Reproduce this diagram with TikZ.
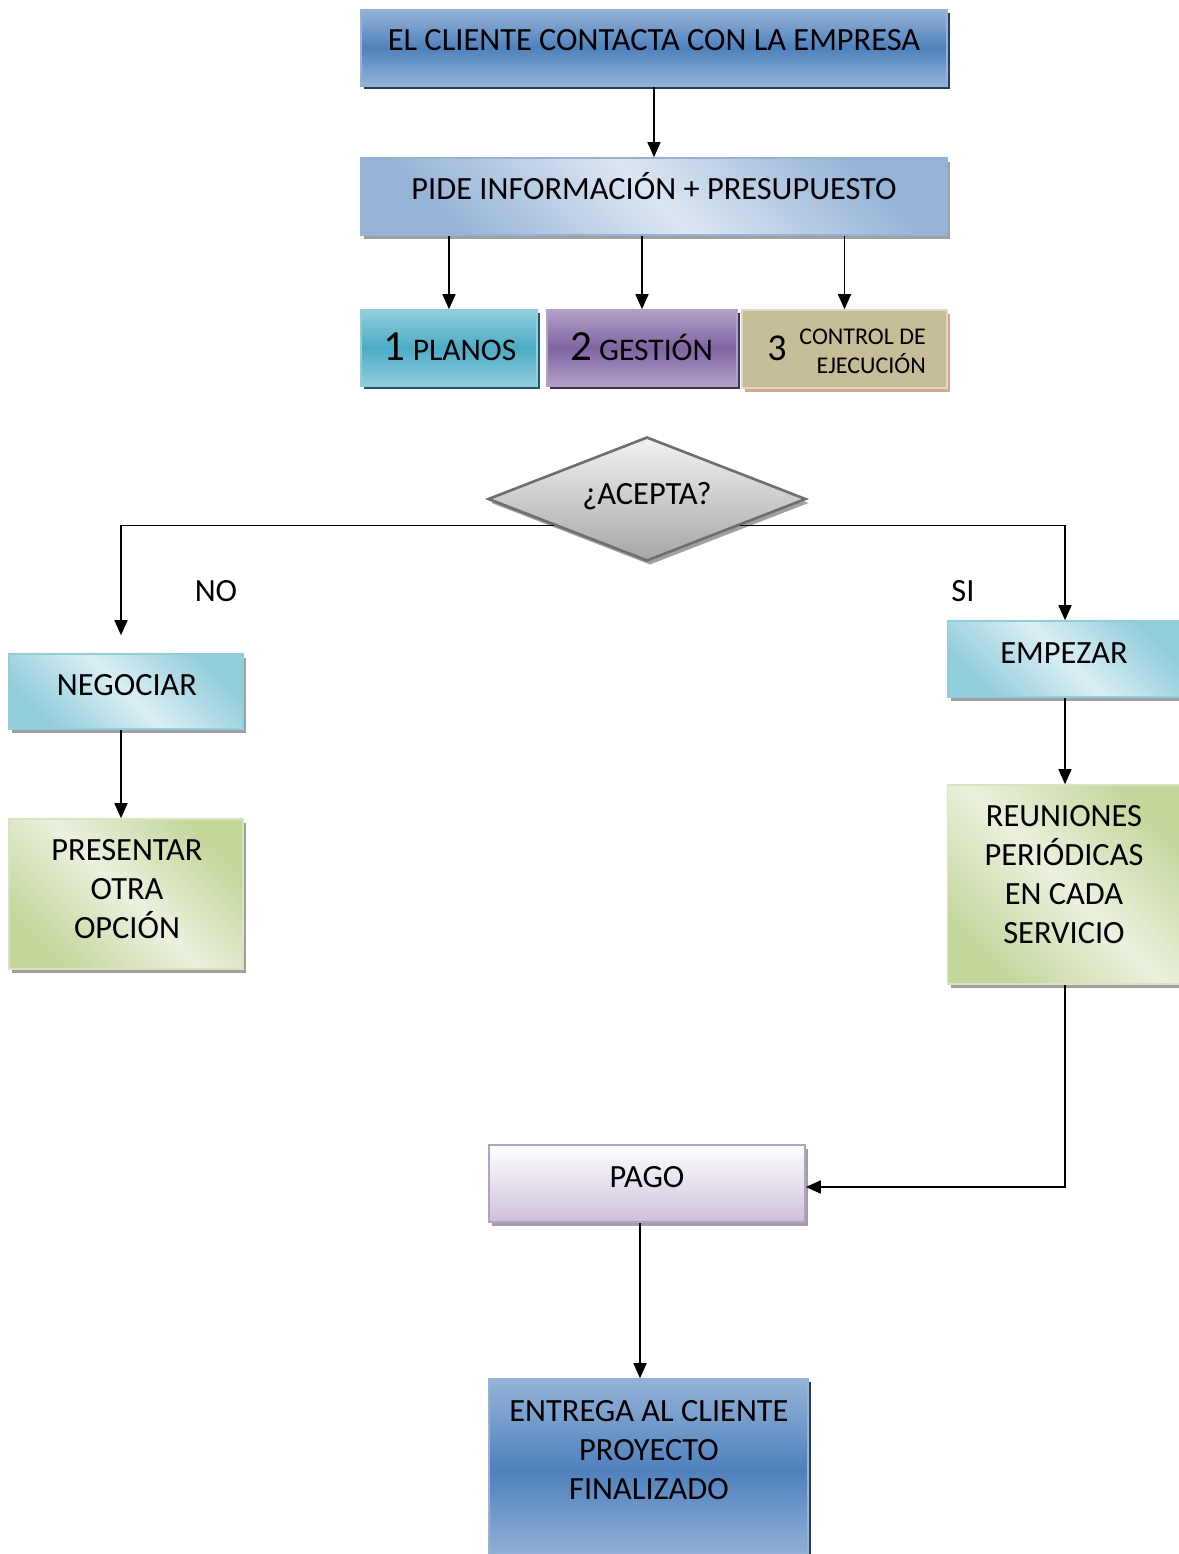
\documentclass[tikz,border=0pt]{standalone}
\usepackage{fontspec}
\setmainfont{Carlito}
\usetikzlibrary{arrows.meta,shapes.geometric,shadows,calc}
\definecolor{bluedk}{HTML}{4F81BD}
\definecolor{bluemd}{HTML}{95B3D7}
\definecolor{bluelt}{HTML}{DCE6F2}
\definecolor{bluesh}{HTML}{243F60}
\definecolor{tealdk}{HTML}{4BACC6}
\definecolor{tealmd}{HTML}{92CDDC}
\definecolor{teallt}{HTML}{DAEEF3}
\definecolor{tealsh}{HTML}{215968}
\definecolor{purpdk}{HTML}{8064A2}
\definecolor{purpmd}{HTML}{B2A1C7}
\definecolor{purplt}{HTML}{CCC0DA}
\definecolor{purpsh}{HTML}{3F3151}
\definecolor{tan}{HTML}{C4BD97}
\definecolor{tanbd}{HTML}{DDD9C3}
\definecolor{tansh}{HTML}{D8A58A}
\definecolor{greendk}{HTML}{C3D69B}
\definecolor{greenlt}{HTML}{EBF1DE}
\definecolor{greenbd}{HTML}{D7E4BD}
\definecolor{diamdk}{HTML}{A6A6A6}
\definecolor{diamlt}{HTML}{F2F2F2}
\definecolor{diambd}{HTML}{6E6E6E}
\definecolor{texsh}{HTML}{A0A0A0}
\tikzset{
  boxnode/.style={draw, line width=1.6pt, inner sep=0pt},
  darkshadow/.style={drop shadow={shadow xshift=3pt, shadow yshift=-3pt, fill=#1, opacity=1}},
  texshadow/.style={drop shadow={shadow xshift=3pt, shadow yshift=-4pt, fill=#1, opacity=1}},
  vgrad/.style 2 args={top color=#1, bottom color=#1, middle color=#2},
  dgrad/.style 2 args={top color=#1, bottom color=#1, middle color=#2, shading angle=-45},
  txt/.style={font=\fontsize{32.4}{39}\selectfont, inner sep=0pt, align=center, anchor=base},
  arr/.style={line width=1.6pt, -{Triangle[width=13pt,length=15pt]}},
  ln/.style={line width=1.6pt}
}
\begin{document}
\begin{tikzpicture}[x=1pt,y=-1pt]
\useasboundingbox[fill=white] (0,0) rectangle (1178,1554);

% top boxes
\node[boxnode, draw=bluemd, vgrad={bluemd}{bluedk}, darkshadow=bluesh,
      minimum width=586pt, minimum height=76pt] (c1) at (654,48) {};
\node[txt] (c1t) at (654,51) {EL CLIENTE CONTACTA CON LA EMPRESA};

\node[boxnode, draw=bluemd, dgrad={bluemd}{bluelt}, texshadow=texsh,
      minimum width=586pt, minimum height=77pt] (c2) at (654,196.5) {};
\node[txt] (c2t) at (654,200) {PIDE INFORMACIÓN + PRESUPUESTO};

% three services
\node[boxnode, draw=tealmd, vgrad={tealmd}{tealdk}, darkshadow=tealsh,
      minimum width=176pt, minimum height=76pt] (p1) at (449,348) {};
\node[txt] (p1t) at (450,360) {{\fontsize{43}{43}\selectfont 1} {\fontsize{31.5}{36}\selectfont PLANOS}};

\node[boxnode, draw=purpmd, vgrad={purpmd}{purpdk}, darkshadow=purpsh,
      minimum width=190pt, minimum height=76pt] (p2) at (642,348) {};
\node[txt] (p2t) at (641.5,360) {{\fontsize{43}{43}\selectfont 2} {\fontsize{31.5}{36}\selectfont GESTIÓN}};

\node[boxnode, draw=tanbd, fill=tan, texshadow=tansh,
      minimum width=205pt, minimum height=78pt] (p3) at (844.5,349) {};
\node[txt] (p3n) at (777,360) {\fontsize{38}{38}\selectfont 3};
\node[txt, align=right, anchor=base east, font=\fontsize{24}{29}\selectfont] (p3t) at (926,373) {CONTROL DE\\EJECUCIÓN};

% connectors top
\draw[arr] (c1) -- (c2);
\draw[arr] (c2.south -| p1) -- (p1.north);
\draw[arr] (c2.south -| p2) -- (p2.north);
\draw[arr] (c2.south -| p3) -- (p3.north);

% decision
\node[draw=diambd, line width=2.6pt, diamond, aspect=2.56, inner sep=0pt,
      minimum width=318pt, minimum height=124pt,
      top color=diamlt, bottom color=diamdk, texshadow=texsh] (d) at (647,499) {};
\node[txt] (dt) at (647,504) {¿ACEPTA?};

% left branch
\node[boxnode, draw=tealmd, dgrad={tealmd}{teallt}, texshadow=texsh,
      minimum width=234pt, minimum height=75pt] (neg) at (126,691.5) {};
\node[txt] (negt) at (127,695) {NEGOCIAR};

\node[boxnode, draw=greenbd, dgrad={greendk}{greenlt}, texshadow=texsh,
      minimum width=234pt, minimum height=150pt] (pres) at (126,894) {};
\node[txt] (prest) at (127,938) {PRESENTAR\\OTRA\\OPCIÓN};

% right branch
\node[boxnode, draw=tealmd, dgrad={tealmd}{teallt}, texshadow=texsh,
      minimum width=235pt, minimum height=76pt] (emp) at (1065,659) {};
\node[txt] (empt) at (1064,663) {EMPEZAR};

\node[boxnode, draw=greenbd, dgrad={greendk}{greenlt}, texshadow=texsh,
      minimum width=235pt, minimum height=199pt] (reu) at (1065,884.5) {};
\node[txt] (reut) at (1064,943) {REUNIONES\\PERIÓDICAS\\EN CADA\\SERVICIO};

% payment and delivery
\node[boxnode, draw=purpmd, top color=white, bottom color=purplt, texshadow=texsh,
      minimum width=316pt, minimum height=77pt] (pago) at (647,1183.5) {};
\node[txt] (pagot) at (647,1187) {PAGO};

\node[boxnode, draw=bluemd, vgrad={bluemd}{bluedk}, darkshadow=bluesh,
      minimum width=319pt, minimum height=182pt] (ent) at (648.5,1470) {};
\node[txt] (entt) at (649,1499) {ENTREGA AL CLIENTE\\PROYECTO\\FINALIZADO};

% branch labels
\node[txt] (no) at (216,601) {NO};
\node[txt] (si) at (963,601) {SI};

% branch connectors
\draw[arr, shorten >=18pt] ($(d.west)!0.42!(d.south)$) -| ([xshift=-5pt]neg.north);
\draw[arr] ($(d.east)!0.42!(d.south)$) -| (emp.north);
\draw[arr] ([xshift=-5pt]neg.south) -- ([xshift=-5pt]pres.north);
\draw[arr] (emp) -- (reu);
\draw[arr] (reu.south) |- ([yshift=-3.5pt]pago.east);
\draw[arr] ([xshift=-7pt]pago.south) -- ([xshift=-7pt]pago.south |- ent.north);
\end{tikzpicture}
\end{document}
